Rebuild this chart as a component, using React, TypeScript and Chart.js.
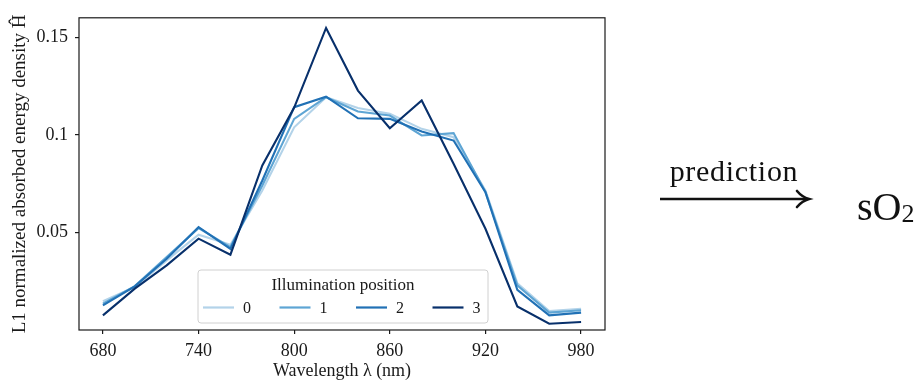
import React, { useEffect, useRef } from "react";
import { Chart, registerables } from "chart.js";

Chart.register(...registerables);

const WAVELENGTHS = [680, 700, 720, 740, 760, 780, 800, 820, 840, 860, 880, 900, 920, 940, 960, 980];
const POS0 = [0.0147, 0.022, 0.0357, 0.0488, 0.0437, 0.0715, 0.1039, 0.1193, 0.1138, 0.1108, 0.1031, 0.0988, 0.0715, 0.024, 0.0097, 0.0109];
const POS1 = [0.0135, 0.0225, 0.0374, 0.0522, 0.0425, 0.0741, 0.1082, 0.1193, 0.112, 0.1099, 0.0997, 0.1009, 0.0707, 0.0229, 0.0089, 0.0101];
const POS2 = [0.0126, 0.0224, 0.0365, 0.0527, 0.0416, 0.0766, 0.1142, 0.1196, 0.1085, 0.1082, 0.1017, 0.0971, 0.0706, 0.0206, 0.0075, 0.0089];
const POS3 = [0.0075, 0.0212, 0.0331, 0.0468, 0.0386, 0.0843, 0.114, 0.1548, 0.1227, 0.1034, 0.1176, 0.0852, 0.0519, 0.0121, 0.0032, 0.0041];
const SERIES = [POS0, POS1, POS2, POS3];
const SERIES_LABELS = ["0", "1", "2", "3"];
const SERIES_COLORS = ["#b3d3e9", "#5ea5d4", "#2171b5", "#08306b"];
const X_TICKS = [680, 740, 800, 860, 920, 980];
const Y_TICKS = [0.05, 0.1, 0.15];
const LEGEND_TITLE = "Illumination position";
const X_TITLE = "Wavelength λ (nm)";
const Y_TITLE = "L1 normalized absorbed energy density Ĥ";
const ARROW_LABEL = "prediction";

const FONT = "'Liberation Serif', 'DejaVu Serif', serif";

const framePlugin = {
  id: "frameAndLegend",
  afterDraw(chart: any) {
    const { ctx, chartArea: a } = chart;
    ctx.save();
    ctx.strokeStyle = "#1a1a1a";
    ctx.lineWidth = 1.2;
    ctx.strokeRect(a.left, a.top, a.right - a.left, a.bottom - a.top);

    // legend box (lower center)
    const cx = (a.left + a.right) / 2 + 1;
    const w = 290;
    const h = 53;
    const x0 = cx - w / 2;
    const y0 = a.bottom - 7 - h;
    const r = 3;
    ctx.beginPath();
    ctx.moveTo(x0 + r, y0);
    ctx.lineTo(x0 + w - r, y0);
    ctx.quadraticCurveTo(x0 + w, y0, x0 + w, y0 + r);
    ctx.lineTo(x0 + w, y0 + h - r);
    ctx.quadraticCurveTo(x0 + w, y0 + h, x0 + w - r, y0 + h);
    ctx.lineTo(x0 + r, y0 + h);
    ctx.quadraticCurveTo(x0, y0 + h, x0, y0 + h - r);
    ctx.lineTo(x0, y0 + r);
    ctx.quadraticCurveTo(x0, y0, x0 + r, y0);
    ctx.closePath();
    ctx.fillStyle = "rgba(255,255,255,0.8)";
    ctx.fill();
    ctx.strokeStyle = "#d0d0d0";
    ctx.lineWidth = 1;
    ctx.stroke();

    ctx.fillStyle = "#1a1a1a";
    ctx.font = `17px ${FONT}`;
    ctx.textAlign = "center";
    ctx.textBaseline = "middle";
    ctx.fillText(LEGEND_TITLE, cx, y0 + 16);

    chart.data.datasets.forEach((ds: any, i: number) => {
      const hx = x0 + 5 + i * 76.5;
      const hy = y0 + 37.5;
      ctx.strokeStyle = ds.borderColor;
      ctx.lineWidth = 2.2;
      ctx.beginPath();
      ctx.moveTo(hx, hy);
      ctx.lineTo(hx + 31, hy);
      ctx.stroke();
      ctx.fillStyle = "#1a1a1a";
      ctx.font = `16px ${FONT}`;
      ctx.textAlign = "center";
      ctx.fillText(ds.label, hx + 44, hy + 1);
    });
    ctx.restore();
  },
};

function ChartPanel() {
  const ref = useRef<HTMLCanvasElement | null>(null);
  useEffect(() => {
    if (!ref.current) return;
    const chart = new Chart(ref.current, {
      type: "line",
      data: {
        datasets: SERIES.map((vals, i) => ({
          label: SERIES_LABELS[i],
          data: vals.map((v, j) => ({ x: WAVELENGTHS[j], y: v })),
          borderColor: SERIES_COLORS[i],
          backgroundColor: SERIES_COLORS[i],
          borderWidth: 2.1,
          pointRadius: 0,
          tension: 0,
          order: SERIES.length - i,
        })),
      },
      options: {
        animation: false,
        responsive: true,
        maintainAspectRatio: false,
        layout: { padding: { top: 16.5, right: 315, left: 0, bottom: 0 } },
        plugins: { legend: { display: false }, tooltip: { enabled: false } },
        scales: {
          x: {
            type: "linear",
            min: 665,
            max: 995,
            afterBuildTicks: (s: any) => {
              s.ticks = X_TICKS.map((v) => ({ value: v }));
            },
            afterFit: (s: any) => {
              s.height = 53;
            },
            grid: { drawOnChartArea: false, drawTicks: true, tickLength: 4, color: "#1a1a1a", lineWidth: 1.2 },
            border: { display: false },
            ticks: {
              color: "#1a1a1a",
              font: { family: FONT, size: 18 },
              padding: 6,
              maxRotation: 0,
              callback: (v: any) => String(v),
            },
            title: {
              display: true,
              text: X_TITLE,
              color: "#1a1a1a",
              font: { family: FONT, size: 18 },
              padding: { top: 0, bottom: 1 },
            },
          },
          y: {
            type: "linear",
            min: 0,
            max: 0.16,
            afterBuildTicks: (s: any) => {
              s.ticks = Y_TICKS.map((v) => ({ value: v }));
            },
            afterFit: (s: any) => {
              s.width = 79;
            },
            grid: { drawOnChartArea: false, drawTicks: true, tickLength: 4, color: "#1a1a1a", lineWidth: 1.2 },
            border: { display: false },
            ticks: {
              color: "#1a1a1a",
              font: { family: FONT, size: 18 },
              padding: 7,
              callback: (v: any) => String(v),
            },
            title: {
              display: true,
              text: Y_TITLE,
              color: "#1a1a1a",
              font: { family: FONT, size: 19 },
              padding: { top: 9, bottom: 0 },
            },
          },
        },
      },
      plugins: [framePlugin],
    });
    return () => chart.destroy();
  }, []);
  return <canvas ref={ref} />;
}

export default function App() {
  return (
    <div style={{ position: "fixed", left: 0, top: 0, width: 920, height: 383, background: "#fff", overflow: "hidden" }}>
      <div style={{ position: "absolute", left: 0, top: 0, width: 920, height: 383 }}>
        <ChartPanel />
      </div>
      <div
        style={{
          position: "absolute",
          left: 639,
          width: 190,
          top: 154,
          textAlign: "center",
          fontFamily: FONT,
          fontSize: 30,
          letterSpacing: 0.7,
          color: "#111",
          lineHeight: "34px",
          whiteSpace: "nowrap",
        }}
      >
        {ARROW_LABEL}
      </div>
      <svg style={{ position: "absolute", left: 650, top: 185, overflow: "visible" }} width={170} height={30}>
        <line x1={10} y1={14} x2={157} y2={14} stroke="#111" strokeWidth={2.6} />
        <path d="M147 6 Q152 12 159 14 Q152 16 147 22" fill="none" stroke="#111" strokeWidth={2.6} strokeLinecap="round" />
      </svg>
      <div
        style={{
          position: "absolute",
          left: 857,
          top: 182,
          fontFamily: FONT,
          fontSize: 40,
          color: "#111",
          lineHeight: "50px",
          whiteSpace: "nowrap",
        }}
      >
        sO<span style={{ fontSize: 26, position: "relative", top: 2 }}>2</span>
      </div>
    </div>
  );
}
